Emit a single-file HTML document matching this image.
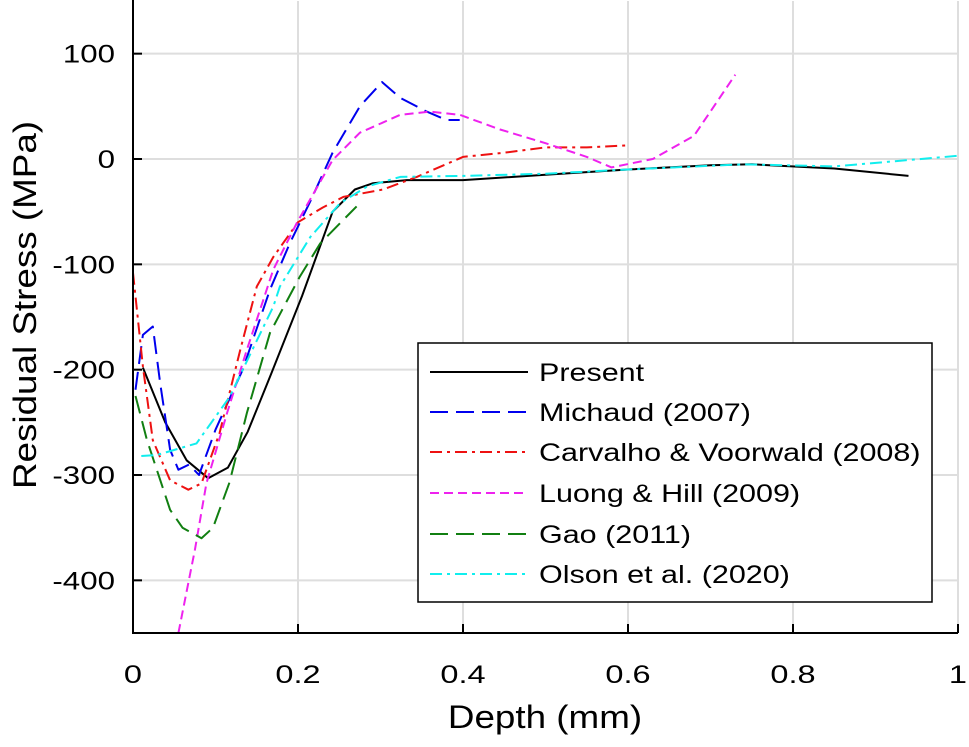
<!DOCTYPE html>
<html><head><meta charset="utf-8"><style>
html,body{margin:0;padding:0;background:#fff;}
svg{display:block;font-family:"Liberation Sans",Arial,sans-serif;}
</style></head><body>
<svg id="chart" width="969" height="747" viewBox="0 0 969 747">
<g id="grid"></g>
<g id="series"></g>
<g id="axes"></g>
<text id="xtitle" x="545" y="728" font-size="32" text-anchor="middle" fill="#000">Depth (mm)</text>
<text id="ytitle" transform="translate(36,305) rotate(-90)" font-size="32" text-anchor="middle" fill="#000">Residual Stress (MPa)</text>
<g id="legend"></g>
</svg>
<script>
const xTicks=[0,0.2,0.4,0.6,0.8,1];
const xTickLabels=["0","0.2","0.4","0.6","0.8","1"];
const yTicks=[100,0,-100,-200,-300,-400];
const yTickLabels=["100","0","-100","-200","-300","-400"];
const seriesNames=["Present","Michaud (2007)","Carvalho & Voorwald (2008)","Luong & Hill (2009)","Gao (2011)","Olson et al. (2020)"];
const presentX=[0.012,0.039,0.065,0.091,0.115,0.139,0.168,0.205,0.242,0.269,0.291,0.332,0.4,0.5,0.6,0.7,0.75,0.85,0.94];
const presentY=[-198,-250,-286,-303,-293,-259,-203,-130,-50,-29,-23,-20,-20,-15,-10,-6,-5,-9,-16];
const michaudX=[0.003,0.012,0.024,0.033,0.045,0.055,0.068,0.08,0.1,0.133,0.166,0.19,0.215,0.242,0.275,0.302,0.324,0.356,0.38,0.396];
const michaudY=[-219,-167,-159,-213,-276,-295,-290,-300,-257,-200,-124,-80,-40,6,50,73,58,45,37,37];
const carvalhoX=[0,0.012,0.024,0.045,0.067,0.083,0.105,0.13,0.15,0.17,0.2,0.23,0.255,0.303,0.344,0.4,0.45,0.5,0.55,0.6];
const carvalhoY=[-108,-197,-267,-305,-314,-308,-260,-181,-121,-93,-60,-46,-36,-29,-17,2,6,11,11,13];
const luongX=[0.055,0.075,0.089,0.114,0.138,0.17,0.199,0.242,0.275,0.324,0.36,0.396,0.445,0.5,0.55,0.58,0.63,0.68,0.73];
const luongY=[-450,-371,-308,-241,-181,-105,-60,-1,25,42,45,42,28,15,2,-8,0,22,80];
const gaoX=[0.003,0.017,0.045,0.06,0.083,0.097,0.117,0.138,0.166,0.202,0.227,0.271];
const gaoY=[-225,-267,-333,-350,-360,-350,-307,-241,-165,-112,-80,-45];
const olsonX=[0.01,0.029,0.077,0.117,0.17,0.178,0.215,0.251,0.284,0.324,0.4,0.5,0.6,0.74,0.85,1.0];
const olsonY=[-282,-281,-270,-226,-140,-121,-74,-42,-26,-17,-16,-14,-10,-5,-7,3];

const X0=133,X1=958,Ytop=1,Ybot=633,ymin=-450,ymax=150;
function sx(v){return X0+(v-0)/(1-0)*(X1-X0);}
function sy(v){return Ybot-(v-ymin)/(ymax-ymin)*(Ybot-Ytop);}
const NS="http://www.w3.org/2000/svg";
function mk(tag,attrs,parent){const e=document.createElementNS(NS,tag);for(const k in attrs)e.setAttribute(k,attrs[k]);parent.appendChild(e);return e;}
function stretch(t,f){const w=t.getComputedTextLength();t.setAttribute('textLength',(w*f).toFixed(1));t.setAttribute('lengthAdjust','spacingAndGlyphs');}
const grid=document.getElementById('grid'),axes=document.getElementById('axes'),ser=document.getElementById('series'),leg=document.getElementById('legend');
xTicks.forEach((t,i)=>{
 if(t>0){const g=mk('line',{x1:sx(t),x2:sx(t),y1:Ytop,y2:Ybot,stroke:'#dedede','stroke-width':2},grid);
 
 }
 const tk=mk('line',{x1:sx(t),x2:sx(t),y1:Ybot,y2:Ybot-9,stroke:'#000','stroke-width':2},axes);
 
 
 const tx=mk('text',{x:sx(t),y:683,'font-size':25,'text-anchor':'middle'},axes);tx.textContent=xTickLabels[i];
 
 
 stretch(tx,1.3);
});
yTicks.forEach((t,i)=>{
 const g=mk('line',{x1:X0,x2:X1,y1:sy(t),y2:sy(t),stroke:'#dedede','stroke-width':2},grid);
 
 
 const tk=mk('line',{x1:X0,x2:X0+9,y1:sy(t),y2:sy(t),stroke:'#000','stroke-width':2},axes);
 
 
 const tx=mk('text',{x:115,y:sy(t)+9,'font-size':25,'text-anchor':'end'},axes);tx.textContent=yTickLabels[i];
 
 
 stretch(tx,1.25);
});
const ax1=mk('line',{x1:X0,x2:X0,y1:0,y2:Ybot+1,stroke:'#000','stroke-width':2},axes);


const ax2=mk('line',{x1:X0-1,x2:X1,y1:Ybot,y2:Ybot,stroke:'#000','stroke-width':2},axes);


stretch(document.getElementById('xtitle'),1.15);
stretch(document.getElementById('ytitle'),1.15);

const styles=[
 {c:'#000',d:'',n:'present-line'},
 {c:'#0000ee',d:'18 8',n:'michaud-line'},
 {c:'#ee1111',d:'12 5 3 5',n:'carvalho-line'},
 {c:'#ee22ee',d:'9 5',n:'luong-line'},
 {c:'#117f11',d:'18 8',n:'gao-line'},
 {c:'#11eeee',d:'12 5 3 5',n:'olson-line'}];
const data=[[presentX,presentY],[michaudX,michaudY],[carvalhoX,carvalhoY],[luongX,luongY],[gaoX,gaoY],[olsonX,olsonY]];
const clip=mk('clipPath',{id:'pc'},ser);mk('rect',{x:X0,y:0,width:X1-X0+10,height:Ybot},clip);
data.forEach((d,i)=>{
 const pts=d[0].map((x,j)=>sx(x).toFixed(1)+','+sy(d[1][j]).toFixed(1)).join(' ');
 const p=mk('polyline',{points:pts,fill:'none',stroke:styles[i].c,'stroke-width':2,'stroke-dasharray':styles[i].d,'clip-path':'url(#pc)','stroke-linejoin':'round'},ser);
 
 
});
const box=mk('rect',{x:418,y:343,width:514,height:259,fill:'#fff',stroke:'#000','stroke-width':1.5},leg);


const ly=[372,412,452,493,534,574];
seriesNames.forEach((nm,i)=>{
 const l=mk('line',{x1:430,x2:528,y1:ly[i],y2:ly[i],stroke:styles[i].c,'stroke-width':2,'stroke-dasharray':styles[i].d},leg);
 
 
 const t=mk('text',{x:539,y:ly[i]+9,'font-size':25},leg);t.textContent=nm;
 
 
 stretch(t,1.22);
});
</script>
</body></html>
